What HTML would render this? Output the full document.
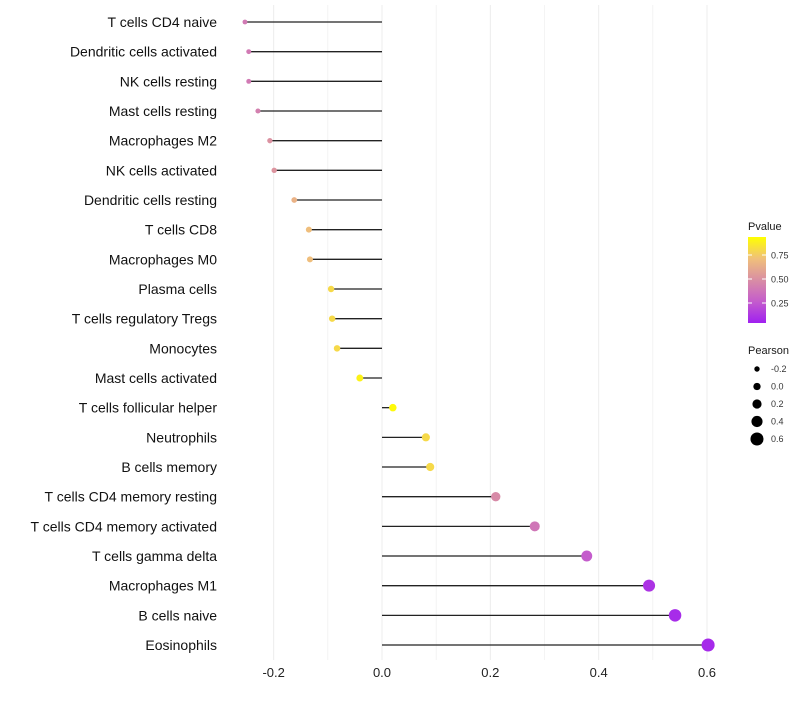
<!DOCTYPE html>
<html><head><meta charset="utf-8"><style>
body{margin:0;background:#fff;font-family:"Liberation Sans",sans-serif}
</style></head><body>
<svg id="c" width="800" height="700" xmlns="http://www.w3.org/2000/svg">
<defs><linearGradient id="g" x1="0" y1="1" x2="0" y2="0">
<stop offset="0" stop-color="#a020f0"/><stop offset="0.25" stop-color="#c45ccc"/><stop offset="0.5" stop-color="#d98ea4"/><stop offset="0.75" stop-color="#f0c07a"/><stop offset="1" stop-color="#ffff00"/></linearGradient></defs>
</svg>
<script>
const categories=["T cells CD4 naive","Dendritic cells activated","NK cells resting","Mast cells resting","Macrophages M2","NK cells activated","Dendritic cells resting","T cells CD8","Macrophages M0","Plasma cells","T cells regulatory  Tregs ","Monocytes","Mast cells activated","T cells follicular helper","Neutrophils","B cells memory","T cells CD4 memory resting","T cells CD4 memory activated","T cells gamma delta","Macrophages M1","B cells naive","Eosinophils"];
const pearson=[-0.253,-0.246,-0.246,-0.229,-0.207,-0.199,-0.162,-0.135,-0.133,-0.094,-0.092,-0.083,-0.041,0.020,0.081,0.089,0.210,0.282,0.378,0.493,0.541,0.602];
const pvalue=[0.4,0.4,0.4,0.43,0.52,0.53,0.68,0.74,0.74,0.85,0.85,0.85,0.95,0.98,0.85,0.85,0.48,0.38,0.25,0.08,0.05,0.04];
const xTicks=[-0.2,0,0.2,0.4,0.6];
const pTicks=[0.25,0.5,0.75];
const sizeTicks=[-0.2,0,0.2,0.4,0.6];
const svg=document.getElementById('c');const NS="http://www.w3.org/2000/svg";
function mk(t,a,p){const e=document.createElementNS(NS,t);for(const k in a)e.setAttribute(k,a[k]);(p||svg).appendChild(e);return e;}
const x=v=>382+v*541.7;
const y=i=>22+i*29.667;
const r=v=>2.4+(v+0.26)*4.8;
function col(p){const st=[[0,[160,32,240]],[0.25,[196,92,204]],[0.5,[217,142,164]],[0.75,[240,192,122]],[1,[255,255,0]]];
for(let i=1;i<st.length;i++){if(p<=st[i][0]){const a=st[i-1],b=st[i],t=(p-a[0])/(b[0]-a[0]);return 'rgb('+a[1].map((c,j)=>Math.round(c+(b[1][j]-c)*t)).join(',')+')';}}return 'rgb(255,255,0)';}
for(let v=-0.2;v<=0.65;v+=0.1){const g=mk('line',{x1:x(v),x2:x(v),y1:5,y2:660,stroke:'#ececec','stroke-width':Math.abs(Math.round(v*10))%2==0?1:0.6});
}
xTicks.forEach(v=>{const t=mk('text',{x:x(v),y:677,'text-anchor':'middle','font-size':13,fill:'#222'});t.textContent=v.toFixed(1);
});
categories.forEach((c,i)=>{
const t=mk('text',{x:217,y:y(i)+5,'text-anchor':'end','font-size':14,fill:'#111'});t.textContent=c;

const l=mk('line',{x1:x(0),x2:x(pearson[i]),y1:y(i),y2:y(i),stroke:'#222','stroke-width':1.3});

const d=mk('circle',{cx:x(pearson[i]),cy:y(i),r:r(pearson[i]),fill:col(pvalue[i])});

});
let t=mk('text',{x:748,y:230,'font-size':11,fill:'#1a1a1a'});t.textContent='Pvalue';

const cb=mk('rect',{x:748,y:237,width:18,height:86,fill:'url(#g)'});

const py=p=>327-p*96;
pTicks.forEach(p=>{mk('line',{x1:748,x2:752,y1:py(p),y2:py(p),stroke:'#fff'});mk('line',{x1:762,x2:766,y1:py(p),y2:py(p),stroke:'#fff'});
const tt=mk('text',{x:771,y:py(p)+3.5,'font-size':9,fill:'#333'});tt.textContent=p.toFixed(2);
});
t=mk('text',{x:748,y:354,'font-size':11,fill:'#1a1a1a'});t.textContent='Pearson';

sizeTicks.forEach((v,i)=>{const c=mk('circle',{cx:757,cy:369+i*17.5,r:r(v),fill:'#000'});

const tt=mk('text',{x:771,y:372+i*17.5,'font-size':9,fill:'#333'});tt.textContent=v.toFixed(1);
});
</script>
</body></html>
